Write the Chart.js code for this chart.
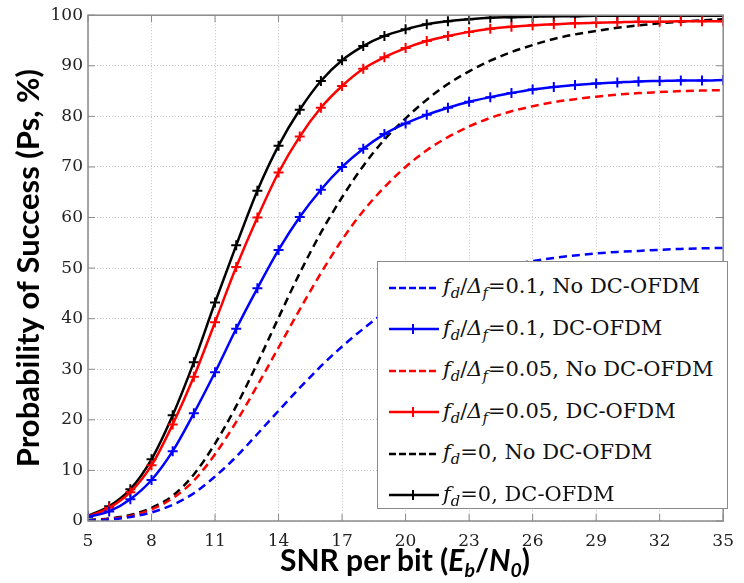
<!DOCTYPE html>
<html>
<head>
<meta charset="utf-8">
<script src="https://cdn.jsdelivr.net/npm/chart.js@4.4.0/dist/chart.umd.min.js"></script>
<style>
  html, body { margin: 0; padding: 0; background: #fff; }
  #wrap { position: relative; width: 744px; height: 583px; }
  #legend {
    position: absolute; left: 377px; top: 261px; width: 351px; height: 248px;
    background: #fff; border: 1px solid #8a8a8a; box-sizing: border-box;
    font-family: "DejaVu Serif", serif; font-size: 21px; color: #111;
    padding-top: 5px;
  }
  .row { height: 41.5px; display: flex; align-items: center; padding-left: 10px; white-space: nowrap; }
  .row svg { margin-right: 3px; flex: none; }
  .row sub { font-size: 0.7em; vertical-align: -0.35em; }
  #xtitle {
    position: absolute; left: 0; width: 810px; top: 541px; text-align: center;
    font-family: Lato, "Open Sans", sans-serif; font-weight: bold; font-size: 30px; color: #000;
    line-height: 36px;
  }
  #xtitle sub { font-size: 0.65em; vertical-align: -0.3em; }
</style>
</head>
<body>
<div id="wrap">
  <canvas id="c" width="744" height="583"></canvas>
  <div id="legend"></div>
  <div id="xtitle">SNR per bit (<i>E</i><sub><i>b</i></sub>/<i>N</i><sub><i>0</i></sub>)</div>
</div>
<script>
// SNR per bit (dB)
const snr = [5, 6, 7, 8, 9, 10, 11, 12, 13, 14, 15, 16, 17, 18, 19, 20,
             21, 22, 23, 24, 25, 26, 27, 28, 29, 30, 31, 32, 33, 34, 35];

// Ps (%)
const blueNo  = [0.1, 0.3, 0.8, 1.7, 3.2, 5.5, 8.8, 12.7, 17.2, 21.8, 26.3, 30.6, 34.5, 38.0, 41.2, 43.8,
                 45.9, 47.6, 48.9, 49.9, 50.7, 51.4, 52.0, 52.5, 52.9, 53.2, 53.4, 53.6, 53.8, 53.9, 54.0];
const blueDC  = [0.8, 1.9, 4.3, 8.1, 13.8, 21.3, 29.4, 38.0, 46.0, 53.6, 60.1, 65.5, 70.0, 73.6, 76.5, 78.6,
                 80.3, 81.7, 82.9, 83.8, 84.6, 85.3, 85.8, 86.2, 86.5, 86.7, 86.9, 87.0, 87.1, 87.1, 87.2];
const redNo   = [0.1, 0.4, 1.0, 2.3, 4.5, 8.0, 13.2, 19.6, 26.8, 34.3, 41.8, 49.0, 55.6, 61.3, 66.0, 70.0,
                 73.3, 75.9, 78.0, 79.7, 81.0, 82.0, 82.8, 83.4, 83.9, 84.3, 84.6, 84.8, 85.0, 85.1, 85.2];
const redDC   = [0.9, 2.6, 5.7, 11.0, 19.1, 28.5, 39.3, 50.2, 60.0, 68.9, 76.0, 81.7, 86.0, 89.4, 91.7, 93.5,
                 94.9, 95.9, 96.7, 97.3, 97.7, 98.0, 98.2, 98.4, 98.5, 98.6, 98.7, 98.7, 98.8, 98.8, 98.8];
const blackNo = [0.2, 0.5, 1.2, 2.6, 5.0, 9.2, 15.3, 22.7, 31.2, 40.2, 49.0, 57.0, 64.0, 70.2, 75.4, 79.6,
                 83.3, 86.4, 88.9, 91.0, 92.7, 94.1, 95.3, 96.2, 96.9, 97.5, 98.0, 98.4, 98.7, 99.0, 99.2];
const blackDC = [1.0, 2.9, 6.3, 12.2, 20.9, 31.4, 43.2, 54.5, 65.3, 74.2, 81.3, 87.0, 91.1, 93.9, 95.9, 97.2,
                 98.2, 98.8, 99.2, 99.5, 99.6, 99.7, 99.8, 99.8, 99.9, 99.9, 99.9, 99.9, 99.9, 99.9, 99.9];

const xTicks = [5, 8, 11, 14, 17, 20, 23, 26, 29, 32, 35];
const yTicks = [0, 10, 20, 30, 40, 50, 60, 70, 80, 90, 100];

const FD  = '<i>f</i><sub><i>d</i></sub>';
const FDF = FD + '/<i>Δ</i><sub><i>f</i></sub>';
const series = [
  { html: FDF + '=0.1, No DC-OFDM',  data: blueNo,  color: '#0000ff', dashed: true  },
  { html: FDF + '=0.1, DC-OFDM',     data: blueDC,  color: '#0000ff', dashed: false },
  { html: FDF + '=0.05, No DC-OFDM', data: redNo,   color: '#ff0000', dashed: true  },
  { html: FDF + '=0.05, DC-OFDM',    data: redDC,   color: '#ff0000', dashed: false },
  { html: FD + '=0, No DC-OFDM',     data: blackNo, color: '#000000', dashed: true  },
  { html: FD + '=0, DC-OFDM',        data: blackDC, color: '#000000', dashed: false }
];

const datasets = series.map(s => ({
  data: snr.map((x, i) => ({ x: x, y: s.data[i] })),
  borderColor: s.color,
  backgroundColor: s.color,
  borderWidth: 2.5,
  borderDash: s.dashed ? [8, 5] : [],
  pointStyle: 'cross',
  pointRadius: s.dashed ? 0 : 5,
  pointBorderWidth: 2,
  pointBorderColor: s.color,
  cubicInterpolationMode: 'monotone',
  fill: false
}));

// MATLAB-like box with inward ticks
const boxPlugin = {
  id: 'box',
  afterDatasetsDraw(chart) {
    const { ctx, chartArea: a, scales } = chart;
    ctx.save();
    ctx.strokeStyle = '#8a8a8a';
    ctx.lineWidth = 1.5;
    ctx.strokeRect(a.left, a.top, a.right - a.left, a.bottom - a.top);
    ctx.lineWidth = 1;
    ctx.beginPath();
    xTicks.forEach(v => {
      const px = scales.x.getPixelForValue(v);
      ctx.moveTo(px, a.bottom); ctx.lineTo(px, a.bottom - 7);
      ctx.moveTo(px, a.top);    ctx.lineTo(px, a.top + 7);
    });
    yTicks.forEach(v => {
      const py = scales.y.getPixelForValue(v);
      ctx.moveTo(a.left, py);  ctx.lineTo(a.left + 7, py);
      ctx.moveTo(a.right, py); ctx.lineTo(a.right - 7, py);
    });
    ctx.stroke();
    ctx.restore();
  }
};

const tickFont = { family: '"DejaVu Serif", serif', size: 17 };

new Chart(document.getElementById('c'), {
  type: 'line',
  data: { datasets: datasets },
  options: {
    responsive: false,
    animation: false,
    layout: { padding: { top: 13, right: 9, left: 0, bottom: 0 } },
    plugins: { legend: { display: false }, tooltip: { enabled: false } },
    scales: {
      x: {
        type: 'linear', min: 5, max: 35,
        afterBuildTicks: s => { s.ticks = xTicks.map(v => ({ value: v })); },
        afterFit: s => { s.height = 62; },
        ticks: { color: '#222', font: tickFont, padding: 10, maxRotation: 0 },
        grid: { color: '#c4c4c4', drawTicks: false },
        border: { display: false, dash: [1, 2] }
      },
      y: {
        min: 0, max: 100,
        afterBuildTicks: s => { s.ticks = yTicks.map(v => ({ value: v })); },
        afterFit: s => { s.width = 88; },
        ticks: { color: '#222', font: tickFont, padding: 5 },
        grid: { color: '#c4c4c4', drawTicks: false },
        border: { display: false, dash: [1, 2] },
        title: {
          display: true, text: 'Probability of Success (Ps, %)', color: '#000',
          font: { family: 'Lato, "Open Sans", sans-serif', weight: 'bold', size: 31 },
          padding: { top: 10, bottom: 0 }
        }
      }
    }
  },
  plugins: [boxPlugin]
});

// legend as HTML so the subscripts stay real text
const leg = document.getElementById('legend');
series.forEach(s => {
  const row = document.createElement('div');
  row.className = 'row';
  const dash = s.dashed ? ' stroke-dasharray="7 3"' : '';
  const mark = s.dashed ? '' :
    `<line x1="25" y1="2" x2="25" y2="12" stroke="${s.color}" stroke-width="2"/>`;
  row.innerHTML =
    `<svg width="52" height="14"><line x1="1" y1="7" x2="51" y2="7" stroke="${s.color}" stroke-width="2.5"${dash}/>${mark}</svg>` +
    `<span>${s.html}</span>`;
  leg.appendChild(row);
});
</script>
</body>
</html>
